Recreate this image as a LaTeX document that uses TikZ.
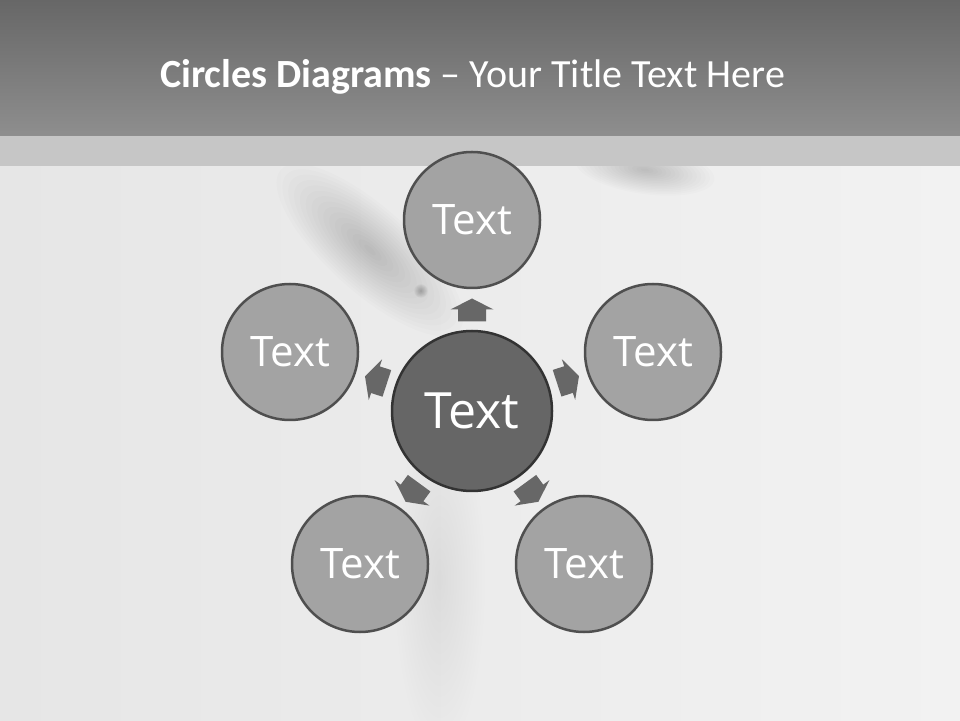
\documentclass[tikz,border=0pt]{standalone}
\usepackage{fontspec}
\setmainfont{Carlito}
\newfontfamily\txtfont{Open Sans}
\usetikzlibrary{calc}
\definecolor{hdtop}{HTML}{676767}
\definecolor{hdbot}{HTML}{8E8E8E}
\definecolor{band}{HTML}{C6C6C6}
\definecolor{bgl}{HTML}{E6E6E6}
\definecolor{bgr}{HTML}{F2F2F2}
\definecolor{outerfill}{HTML}{A3A3A3}
\definecolor{outerline}{HTML}{4F4F4F}
\definecolor{centerfill}{HTML}{666666}
\definecolor{centerline}{HTML}{333333}
\definecolor{arrowfill}{HTML}{676767}
\tikzset{
  outercirc/.style={circle, fill=outerfill, draw=outerline, line width=2.5pt,
    minimum size=136pt, inner sep=0pt, text=white,
    font=\txtfont\fontsize{42}{46}\selectfont},
  centercirc/.style={circle, fill=centerfill, draw=centerline, line width=2.5pt,
    minimum size=160pt, inner sep=0pt, text=white,
    font=\txtfont\fontsize{50}{54}\selectfont},
  blockarrow/.style={fill=arrowfill}
}
\newcommand\blockarr[2]{%
  \fill[blockarrow, shift={(#1)}, rotate=#2]
    (-11.5,-14) -- (0.5,-14) -- (0.5,-21.5) -- (11.5,0) -- (0.5,21.5) -- (0.5,14) -- (-11.5,14) -- cycle;}
% soft blurred spot: centre, angle, rx, ry, opacity per layer
\newcommand\softspot[5]{%
  \begin{scope}[shift={(#1)}, rotate=#2]
  \foreach \k in {1,...,16}{\fill[black, opacity=#5] (0,0) ellipse ({#3*\k/16} and {#4*\k/16});}
  \end{scope}}
\begin{document}
\begin{tikzpicture}[x=1pt,y=1pt]
\useasboundingbox (0,0) rectangle (960,720);
% background
\shade[left color=bgl, right color=bgr] (0,0) rectangle (960,554);
% soft smudges
\softspot{370,470}{-42}{120}{42}{0.01}
\softspot{645,550}{-8}{70}{24}{0.012}
\softspot{440,140}{0}{45}{170}{0.004}
\softspot{421,429}{0}{7}{7}{0.015}
% header
\shade[top color=hdtop, bottom color=hdbot] (0,584) rectangle (960,720);
\fill[band] (0,554) rectangle (960,584);
\node[anchor=base west, inner sep=0pt, text=white, font=\fontsize{40}{44}\selectfont] (title) at (160,632)
  {\textbf{Circles Diagrams} – Your Title Text Here};
% circles
\node[centercirc] (c) at (472,309) {Text};
\node[outercirc] (t) at (472,500) {Text};
\node[outercirc] (r) at (653,368) {Text};
\node[outercirc] (l) at (290,368) {Text};
\node[outercirc] (bl) at (360,156) {Text};
\node[outercirc] (br) at (584,156) {Text};
% arrows
\foreach \m/\ang in {t/90, r/18.06, l/161.94, bl/-126.2, br/-53.8}{
  \coordinate (a\m) at ($(c)!101pt!(\m)$);
  \blockarr{a\m}{\ang}
}
\end{tikzpicture}
\end{document}
